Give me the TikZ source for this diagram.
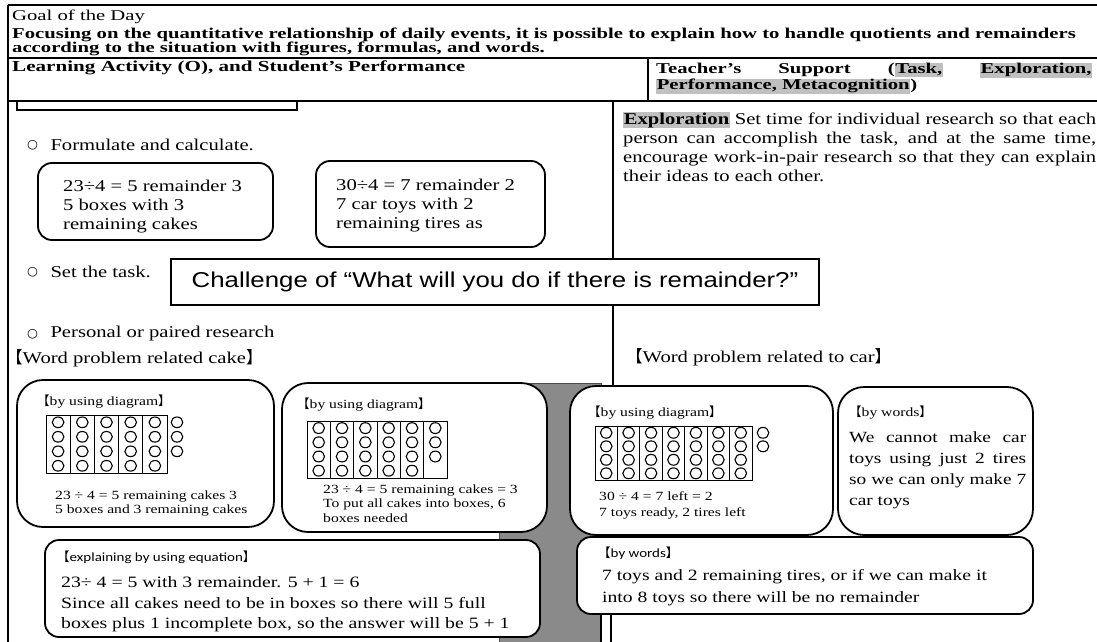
\documentclass[tikz,border=0pt]{standalone}
\usepackage{fontspec}
\setmainfont[FakeStretch=1.25]{Liberation Serif}
\newfontfamily\headfont[FakeStretch=1.38]{Liberation Serif}
\newfontfamily\challengefont[FakeStretch=1.2]{Liberation Sans}
\newfontfamily\notefont[FakeStretch=1.2]{Carlito}
\newfontfamily\cjkfont{Noto Sans CJK SC}
\newfontfamily\symfont{DejaVu Sans}
\usetikzlibrary{positioning}
\definecolor{hlgray}{RGB}{192,192,192}
\definecolor{wallgray}{RGB}{138,138,138}
\newcommand{\lbk}{{\cjkfont 【}}
\newcommand{\rbk}{{\cjkfont 】}}
\newcommand{\bul}{{\symfont\fontsize{12.5}{12.5}\selectfont ○}}
\newcommand{\hl}[1]{{\setlength{\fboxsep}{0.6pt}\colorbox{hlgray}{#1}}}

\begin{document}
\begin{tikzpicture}[x=1pt, y=-1pt,
  rule/.style={line width=1.3},
  roundbox/.style={draw, fill=white, line width=1.8, inner sep=0},
  headtext/.style={inner sep=0, font=\headfont\fontsize{15}{16}\selectfont},
  bodytext/.style={inner sep=0, font=\fontsize{16.5}{19}\selectfont},
  smalltext/.style={inner sep=0, font=\fontsize{12.5}{14.5}\selectfont},
  notetext/.style={inner sep=0, font=\notefont\fontsize{12.5}{14}\selectfont},
  gridline/.style={line width=0.9},
  ring/.style={line width=1.1}]
\useasboundingbox (0,0) rectangle (1097,642);
\clip (0,0) rectangle (1097,642);

% table frame
\draw[line width=2.6] (8,5) -- (1097,5);
\draw[rule] (8,5) -- (8,642);
\draw[rule] (8,58) -- (1097,58);
\draw[rule] (8,101) -- (1097,101);
\draw[rule] (648,58) -- (648,101);
\draw[line width=2.2] (17,101) rectangle (297,110);

% header rows
\node[headtext, anchor=west] (goal) at (12,17) {Goal of the Day};
\node[headtext, anchor=west] (goalone) at (12,34.5) {\bfseries Focusing on the quantitative relationship of daily events, it is possible to explain how to handle quotients and remainders};
\node[headtext, anchor=west] (goaltwo) at (12,49) {\bfseries according to the situation with figures, formulas, and words.};
\node[headtext, anchor=west, font=\headfont\fontsize{15.3}{16}\selectfont] (activity) at (12,68) {\bfseries Learning Activity (O), and Student’s Performance};
\node[headtext, anchor=north west, text width=436, align=justify] (support) at (656,62.5)
  {\bfseries Teacher’s Support (\hl{Task,} \hl{Exploration,}\linebreak \hl{Performance, Metacognition})};

% teacher's column
\node[bodytext, anchor=north west, text width=473, align=justify] (explore) at (623,112)
  {\hl{\bfseries Exploration} Set time for individual research so that each\linebreak
   person can accomplish the task, and at the same time,\linebreak
   encourage work-in-pair research so that they can explain\linebreak
   their ideas to each other.};

% formulate and calculate
\node[anchor=west, inner sep=0] (bulcalc) at (27,145) {\bul};
\node[bodytext, right=12pt of bulcalc] (calc) {Formulate and calculate.};
\node[roundbox, rounded corners=14pt, minimum width=235, minimum height=77] (calccake) at (155.5,201.5) {};
\node[roundbox, rounded corners=14pt, minimum width=229, minimum height=86] (calccar) at (430.5,204) {};
\node[bodytext, anchor=north west, align=left] (calccaketext) at (63,180)
  {23÷4 = 5 remainder 3\\5 boxes with 3\\remaining cakes};
\node[bodytext, anchor=north west, align=left] (calccartext) at (336,179)
  {30÷4 = 7 remainder 2\\7 car toys with 2\\remaining tires as};

% the task
\node[anchor=west, inner sep=0] (bultask) at (27,272) {\bul};
\node[bodytext, right=12pt of bultask] (task) {Set the task.};
\node[draw, line width=2, minimum width=648, minimum height=46, inner sep=0,
  font=\challengefont\fontsize{21.5}{24}\selectfont] (challenge) at (495,282)
  {Challenge of “What will you do if there is remainder?”};

% research
\node[anchor=west, inner sep=0] (bulres) at (27,334) {\bul};
\node[bodytext, right=12pt of bulres] (research) {Personal or paired research};
\node[bodytext, anchor=west] (cakeprob) at (6,358) {\lbk Word problem related cake\rbk};
\node[bodytext, anchor=west] (carprob) at (626,357) {\lbk Word problem related to car\rbk};

% gray wall
\filldraw[fill=wallgray, draw=black!70, line width=0.8] (499,383) rectangle (601,650);

% answer boxes
\node[roundbox, rounded corners=26pt, minimum width=257, minimum height=147] (cakediag) at (145.5,453.5) {};
\node[roundbox, rounded corners=26pt, minimum width=265, minimum height=149] (cakebox) at (414.5,457.5) {};
\node[roundbox, rounded corners=26pt, minimum width=263, minimum height=149] (cardiag) at (701.5,460.5) {};
\node[roundbox, rounded corners=26pt, minimum width=195, minimum height=148] (carword) at (935.5,461) {};
\node[roundbox, rounded corners=14pt, minimum width=495, minimum height=97] (equation) at (292.5,588.5) {};
\node[roundbox, rounded corners=14pt, minimum width=456, minimum height=77] (carsum) at (805,575.5) {};

% column divider
\coordinate (divtop) at (613,101);
\draw[rule] (divtop) -- (divtop |- challenge.north);
\draw[rule] (divtop |- challenge.south) -- (divtop |- cardiag.north);
\coordinate (wallfoot) at (601,642);
\draw[rule] (wallfoot |- carsum.south) -- (wallfoot);
\draw[rule] ([xshift=10pt]wallfoot |- carsum.south) -- ([xshift=10pt]wallfoot);

% cakes in five boxes
\node[smalltext, anchor=west] (cakediagtitle) at (37,402) {\lbk by using diagram\rbk};
\draw[gridline] (46,415) rectangle (167,473);
\foreach \c in {1,...,4}
  \draw[gridline] (46+24.2*\c,415) -- (46+24.2*\c,473);
\foreach \c in {0,...,4}
  \foreach \r in {0,...,3}
    \draw[ring] (58.1+24.2*\c,422.3+14.5*\r) ellipse (5.8 and 5.3);
\foreach \r in {0,1,2}
  \draw[ring] (177,422.3+14.5*\r) ellipse (5.8 and 5.3);
\node[smalltext, anchor=north west, align=left] (cakediagtext) at (55,490.6)
  {23 ÷ 4 = 5 remaining cakes 3\\5 boxes and 3 remaining cakes};

% cakes in six boxes
\node[smalltext, anchor=west] (cakeboxtitle) at (297,405) {\lbk by using diagram\rbk};
\draw[gridline] (307,421) rectangle (447,478);
\foreach \c in {1,...,5}
  \draw[gridline] (307+23.33*\c,421) -- (307+23.33*\c,478);
\foreach \c in {0,...,4}
  \foreach \r in {0,...,3}
    \draw[ring] (318.7+23.33*\c,428.1+14.2*\r) ellipse (5.8 and 5.4);
\foreach \r in {0,1,2}
  \draw[ring] (435.3,428.1+14.2*\r) ellipse (5.8 and 5.4);
\node[smalltext, anchor=north west, align=left] (cakeboxtext) at (323,484.6)
  {23 ÷ 4 = 5 remaining cakes = 3\\To put all cakes into boxes, 6\\boxes needed};

% seven car toys
\node[smalltext, anchor=west] (cardiagtitle) at (588,413) {\lbk by using diagram\rbk};
\draw[gridline] (595,426) rectangle (752,480);
\foreach \c in {1,...,6}
  \draw[gridline] (595+22.43*\c,426) -- (595+22.43*\c,480);
\foreach \c in {0,...,6}
  \foreach \r in {0,...,3}
    \draw[ring] (606.2+22.43*\c,432.8+13.5*\r) ellipse (5.8 and 5.4);
\foreach \r in {0,1}
  \draw[ring] (763,432.8+13.5*\r) ellipse (5.8 and 5.4);
\node[smalltext, anchor=north west, align=left, font=\fontsize{12.5}{16}\selectfont] (cardiagtext) at (599,491.8)
  {30 ÷ 4 = 7 left = 2\\7 toys ready, 2 tires left};

% car toys by words
\node[smalltext, anchor=west] (carwordtitle) at (849,413) {\lbk by words\rbk};
\node[bodytext, anchor=north west, text width=177, align=justify, font=\fontsize{15.5}{21}\selectfont] (carwordtext) at (849,431.5)
  {We cannot make car\linebreak toys using just 2 tires\linebreak so we can only make 7\linebreak car toys};

% equation
\node[notetext, anchor=west] (equationtitle) at (57,557) {\lbk explaining by using equation\rbk};
\node[bodytext, anchor=north west, align=left, font=\fontsize{15.8}{20.5}\selectfont] (equationtext) at (61,576.5)
  {23÷ 4 = 5 with 3 remainder. 5 + 1 = 6\\Since all cakes need to be in boxes so there will 5 full\\boxes plus 1 incomplete box, so the answer will be 5 + 1};

% car toys summary
\node[notetext, anchor=west] (carsumtitle) at (598,553) {\lbk by words\rbk};
\node[bodytext, anchor=north west, align=left, font=\fontsize{15.7}{22}\selectfont] (carsumtext) at (602,569.5)
  {7 toys and 2 remaining tires, or if we can make it\\into 8 toys so there will be no remainder};
\end{tikzpicture}
\end{document}
